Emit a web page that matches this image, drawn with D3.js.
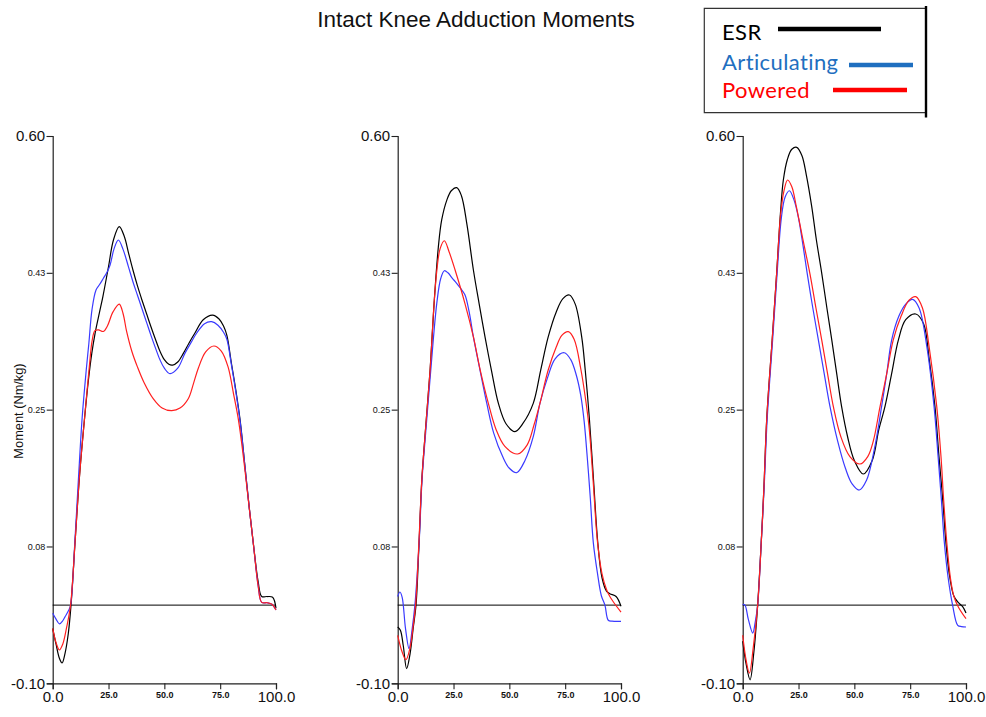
<!DOCTYPE html>
<html>
<head>
<meta charset="utf-8">
<script src="https://cdn.jsdelivr.net/npm/d3@7"></script>
<style>
  html, body { margin: 0; padding: 0; background: #fff; }
  svg { display: block; }
</style>
</head>
<body>
<svg id="chart" width="986" height="717"></svg>
<script>
// ---------------- DATA (percent of stance, moment Nm/kg) ----------------
const chartTitle = "Intact Knee Adduction Moments";
const yAxisLabel = "Moment (Nm/kg)";
const seriesNames = ["ESR", "Articulating", "Powered"];
const xTickValues = [0, 25, 50, 75, 100];
const xTickLabels = ["0.0", "25.0", "50.0", "75.0", "100.0"];
const yTickValues = [-0.10, 0.075, 0.25, 0.425, 0.60];
const yTickLabels = ["-0.10", "0.08", "0.25", "0.43", "0.60"];

// Panel 1 (left)
const p1ESR = [[0,-0.03],[1.5,-0.05],[3,-0.068],[4.2,-0.074],[5.5,-0.062],[7,-0.036],[8.2,0],[10,0.08],[12,0.165],[14.3,0.24],[16,0.288],[17.5,0.322],[19,0.348],[21,0.375],[22.5,0.395],[25,0.433],[27.2,0.467],[29.8,0.484],[32,0.472],[34,0.45],[36,0.428],[38,0.408],[40,0.39],[42,0.373],[44,0.356],[46,0.34],[48,0.325],[50,0.314],[52,0.308],[53.7,0.307],[56,0.311],[58.5,0.322],[61,0.335],[63.7,0.348],[67.4,0.365],[71.6,0.371],[74.5,0.366],[76.5,0.357],[78,0.345],[80,0.31],[82,0.275],[84,0.235],[86,0.18],[88,0.125],[90,0.075],[92,0.03],[93.6,0.011],[96,0.011],[98.5,0.01],[100,-0.004]];
const p1Art = [[0,-0.0105],[1.5,-0.018],[3,-0.024],[4.5,-0.02],[5.5,-0.015],[7.1,-0.007],[8,0],[10,0.085],[11.5,0.16],[13.2,0.24],[15,0.3],[16.2,0.335],[17.6,0.378],[19.4,0.403],[21,0.41],[22.7,0.418],[24.2,0.425],[25.7,0.435],[27.5,0.456],[29.4,0.467],[31.5,0.455],[33.9,0.433],[36,0.413],[38,0.396],[40,0.379],[42,0.362],[44,0.345],[46,0.329],[48,0.314],[50,0.303],[52.5,0.296],[56,0.303],[59.2,0.322],[62,0.336],[64.5,0.348],[68,0.36],[71.2,0.3625],[74,0.358],[76.5,0.349],[78,0.34],[80,0.308],[82,0.273],[84,0.233],[86,0.18],[88,0.125],[90,0.075],[92,0.025],[93.6,0.0035],[96,0.003],[98.2,0.001],[100,-0.0063]];
const p1Pow = [[0,-0.0297],[1.5,-0.048],[3,-0.0574],[4.5,-0.05],[6.3,-0.0276],[8,0],[10,0.08],[12,0.165],[14.3,0.24],[16.4,0.305],[17.7,0.339],[18.9,0.351],[20.5,0.352],[22.7,0.35],[24.5,0.357],[27,0.375],[29.8,0.385],[31.5,0.373],[33.1,0.35],[35.5,0.324],[37.9,0.305],[41,0.284],[45,0.264],[49,0.252],[53.3,0.2487],[57,0.252],[60.7,0.264],[63,0.283],[65.2,0.303],[68.5,0.324],[72.2,0.3314],[75.5,0.325],[78.5,0.305],[81,0.27],[83,0.24],[84.5,0.21],[86,0.175],[88,0.125],[90,0.075],[92,0.025],[93.6,0.0035],[96,0.003],[98.2,0.001],[100,-0.0063]];

// Panel 2 (middle)
const p2ESR = [[0,-0.028],[1.2,-0.032],[2.5,-0.052],[4,-0.0813],[5.5,-0.063],[7,-0.028],[8.2,0],[9.5,0.075],[10.8,0.16],[12.6,0.23],[14.5,0.3],[16.3,0.386],[18.2,0.458],[19.7,0.4926],[22,0.518],[24,0.53],[26.4,0.534],[28.5,0.524],[31,0.487],[33.9,0.4286],[36.5,0.385],[39.1,0.343],[42,0.3],[45.1,0.258],[48.5,0.232],[52.5,0.222],[56,0.232],[60.7,0.258],[64,0.3],[67.4,0.343],[71,0.375],[74,0.392],[76.9,0.3966],[79.5,0.385],[82.4,0.343],[84,0.3],[85.8,0.24],[87.7,0.16],[89.6,0.08],[91.5,0.035],[93.5,0.018],[95,0.0146],[97.8,0.011],[100,-0.0015]];
const p2Art = [[0,0.011],[1,0.0168],[2,0.01],[3.5,-0.03],[5.1,-0.0557],[6.5,-0.03],[7.7,0],[9.6,0.08],[10.9,0.16],[12.8,0.23],[14.8,0.3],[17.5,0.386],[19.3,0.418],[20.9,0.4277],[22.5,0.425],[24.5,0.418],[26.4,0.4116],[28.2,0.405],[30.1,0.397],[32,0.375],[33.9,0.343],[36.9,0.3],[39.9,0.258],[43,0.22],[47,0.19],[50,0.175],[53.3,0.1694],[57,0.185],[60.7,0.2154],[63.7,0.258],[67,0.29],[70.5,0.315],[74.6,0.3228],[77.5,0.314],[80,0.294],[82,0.268],[83.5,0.235],[85,0.185],[86.3,0.135],[87.6,0.08],[89.5,0.04],[91.2,0.012],[92.8,0],[94.3,-0.0194],[96,-0.0205],[100,-0.0207]];
const p2Pow = [[0,-0.0386],[2,-0.06],[3.7,-0.0698],[5.5,-0.055],[7,-0.025],[8,0],[9.5,0.08],[10.8,0.16],[12.6,0.23],[14.5,0.3],[16.3,0.386],[17.6,0.43],[19,0.456],[20.9,0.466],[23,0.452],[25.7,0.4286],[30.1,0.386],[33.9,0.343],[37,0.3],[40.6,0.258],[44,0.225],[48,0.203],[53.7,0.1933],[58,0.205],[61,0.23],[63.7,0.258],[67.4,0.3007],[71,0.33],[73.5,0.345],[76.4,0.3497],[79,0.34],[82,0.302],[84.2,0.262],[85.8,0.225],[87.5,0.16],[89.5,0.08],[91.5,0.04],[93.5,0.02],[95,0.011],[96.6,0.004],[100,-0.0089]];

// Panel 3 (right)
const p3ESR = [[0,-0.046],[1.5,-0.075],[3.3,-0.0955],[5,-0.06],[6.7,0],[8.3,0.08],[9.5,0.15],[10.8,0.24],[13.2,0.339],[15.2,0.424],[17,0.505],[18.2,0.5437],[20,0.57],[22,0.583],[24.2,0.5855],[26.5,0.575],[28.5,0.55],[30.9,0.51],[33,0.467],[35.4,0.4244],[37.7,0.38],[39.9,0.339],[42.1,0.296],[44.3,0.2538],[47,0.215],[50,0.185],[54,0.1677],[58,0.185],[61,0.225],[63.7,0.2538],[66.7,0.296],[69.7,0.339],[73,0.365],[77.5,0.3723],[81,0.36],[83.5,0.315],[86.1,0.2538],[87.9,0.19],[89.6,0.134],[91,0.08],[92.5,0.04],[94.5,0.012],[96.3,0.004],[98.5,-0.002],[100,-0.01]];
const p3Art = [[0,0.001],[1,0.0],[2.5,-0.018],[4.5,-0.0357],[5.7,-0.02],[6.7,0],[8.3,0.08],[9.6,0.15],[11,0.24],[13.4,0.339],[15.4,0.424],[17.3,0.495],[19,0.522],[20.9,0.53],[23,0.518],[25,0.495],[27,0.46],[28.9,0.424],[31.4,0.38],[33.9,0.339],[36.5,0.296],[39.1,0.2538],[42.5,0.21],[46,0.175],[49,0.155],[52.2,0.1472],[55.5,0.16],[59,0.2],[62.2,0.2538],[64.5,0.296],[66.7,0.339],[70,0.37],[73,0.385],[76.1,0.391],[79,0.38],[82.5,0.33],[85.7,0.2538],[87.5,0.19],[89,0.134],[90.3,0.08],[92,0.035],[94,0],[96.3,-0.0258],[98,-0.0275],[100,-0.028]];
const p3Pow = [[0,-0.0386],[1.5,-0.07],[3,-0.0869],[4.7,-0.055],[6.7,0],[8.3,0.08],[9.5,0.15],[10.8,0.24],[13.2,0.339],[15.2,0.424],[17,0.5],[18.5,0.53],[20.1,0.5437],[22,0.535],[24,0.51],[27,0.467],[30.1,0.424],[32.8,0.38],[35.4,0.339],[38,0.296],[40.6,0.2538],[44,0.215],[48,0.19],[52.5,0.1805],[56,0.19],[58.5,0.21],[61.5,0.2538],[64.5,0.296],[67.4,0.339],[71,0.37],[74.5,0.39],[77.5,0.3945],[80.5,0.38],[83.5,0.33],[86.9,0.2538],[88.8,0.19],[90,0.134],[91.4,0.08],[93,0.035],[94.5,0.012],[96.5,-0.002],[100,-0.0174]];

const panels = [
  { ESR: p1ESR, Articulating: p1Art, Powered: p1Pow },
  { ESR: p2ESR, Articulating: p2Art, Powered: p2Pow },
  { ESR: p3ESR, Articulating: p3Art, Powered: p3Pow }
];

// ---------------- LAYOUT / STYLE ----------------
const panelLeft = [52.7, 397.7, 742.7];
const panelWidth = 223.3;
const plotTop = 136, plotBottom = 683.3;
const lineColors = { ESR: "#000000", Articulating: "#3a3aff", Powered: "#ff1f1f" };
const legendColors = { ESR: "#000000", Articulating: "#1f6fc0", Powered: "#ff0000" };
const sans = "'Liberation Sans', Arial, Helvetica, sans-serif";

const svg = d3.select("#chart");

// Title
svg.append("text")
  .attr("x", 476).attr("y", 26.5)
  .attr("text-anchor", "middle")
  .style("font-family", sans).style("font-size", "22.5px").style("fill", "#111")
  .text(chartTitle);

// Y axis label
svg.append("text")
  .attr("transform", "translate(22.5,411) rotate(-90)")
  .attr("text-anchor", "middle")
  .style("font-family", sans).style("font-size", "12.8px").style("fill", "#111")
  .text(yAxisLabel);

const y = d3.scaleLinear().domain([-0.10, 0.60]).range([plotBottom, plotTop]);

panels.forEach((panel, i) => {
  const x0 = panelLeft[i];
  const x = d3.scaleLinear().domain([0, 100]).range([x0, x0 + panelWidth]);
  const g = svg.append("g");

  // Y axis
  const yAxis = d3.axisLeft(y).tickValues(yTickValues)
    .tickFormat((d, k) => yTickLabels[k]).tickSize(6).tickPadding(1.5);
  const ga = g.append("g").attr("transform", `translate(${x0},0)`).call(yAxis);
  ga.select(".domain").attr("stroke", "#222").attr("stroke-width", 1.2);
  ga.selectAll(".tick line").attr("stroke", "#222").attr("stroke-width", 1.1);
  ga.selectAll(".tick text")
    .style("font-family", sans).style("fill", "#111")
    .style("font-size", (d, k) => (k === 0 || k === yTickValues.length - 1) ? "15px" : "9px");

  // X axis
  const xAxis = d3.axisBottom(x).tickValues(xTickValues)
    .tickFormat((d, k) => xTickLabels[k]).tickSize(6).tickPadding(2);
  const gx = g.append("g").attr("transform", `translate(0,${plotBottom})`).call(xAxis);
  gx.select(".domain").attr("stroke", "#222").attr("stroke-width", 1.2);
  gx.selectAll(".tick line").attr("stroke", "#222").attr("stroke-width", 1.1);
  gx.selectAll(".tick text")
    .style("font-family", sans).style("fill", "#111")
    .style("font-size", (d, k) => (k === 0 || k === xTickValues.length - 1) ? "15px" : "9px")
    .style("font-weight", (d, k) => (k === 0 || k === xTickValues.length - 1) ? "normal" : "bold");

  // Zero line
  g.append("line")
    .attr("x1", x(0)).attr("x2", x(100))
    .attr("y1", y(0)).attr("y2", y(0))
    .attr("stroke", "#000").attr("stroke-width", 1);

  const line = d3.line()
    .x(d => x(d[0])).y(d => y(d[1]))
    .curve(d3.curveCatmullRom.alpha(0.5));

  ["ESR", "Articulating", "Powered"].forEach(name => {
    g.append("path")
      .datum(panel[name])
      .attr("d", line)
      .attr("fill", "none")
      .attr("stroke", lineColors[name])
      .attr("stroke-width", 1.2)
      .attr("stroke-linejoin", "round");
  });
});

// Legend
const lg = svg.append("g");
lg.append("path")
  .attr("d", "M926,8.3 H704.3 V112.7 H926")
  .attr("fill", "none").attr("stroke", "#333").attr("stroke-width", 1.2);
lg.append("line")
  .attr("x1", 926).attr("x2", 926).attr("y1", 6).attr("y2", 117.5)
  .attr("stroke", "#000").attr("stroke-width", 2.4);

const legendFont = "Lato, 'Open Sans', sans-serif";
const legendRows = [
  { ty: 39.5, lx1: 778, lx2: 881, ly: 29 },
  { ty: 70, lx1: 849, lx2: 913, ly: 65 },
  { ty: 97.5, lx1: 833, lx2: 907, ly: 90 }
];
legendRows.forEach((r, k) => {
  lg.append("text")
    .attr("x", 722).attr("y", r.ty)
    .style("font-family", legendFont).style("font-size", "22px")
    .style("letter-spacing", "0.4px")
    .style("fill", legendColors[seriesNames[k]])
    .text(seriesNames[k]);
  lg.append("line")
    .attr("x1", r.lx1).attr("x2", r.lx2).attr("y1", r.ly).attr("y2", r.ly)
    .attr("stroke", legendColors[seriesNames[k]]).attr("stroke-width", 4.5);
});
</script>
</body>
</html>
